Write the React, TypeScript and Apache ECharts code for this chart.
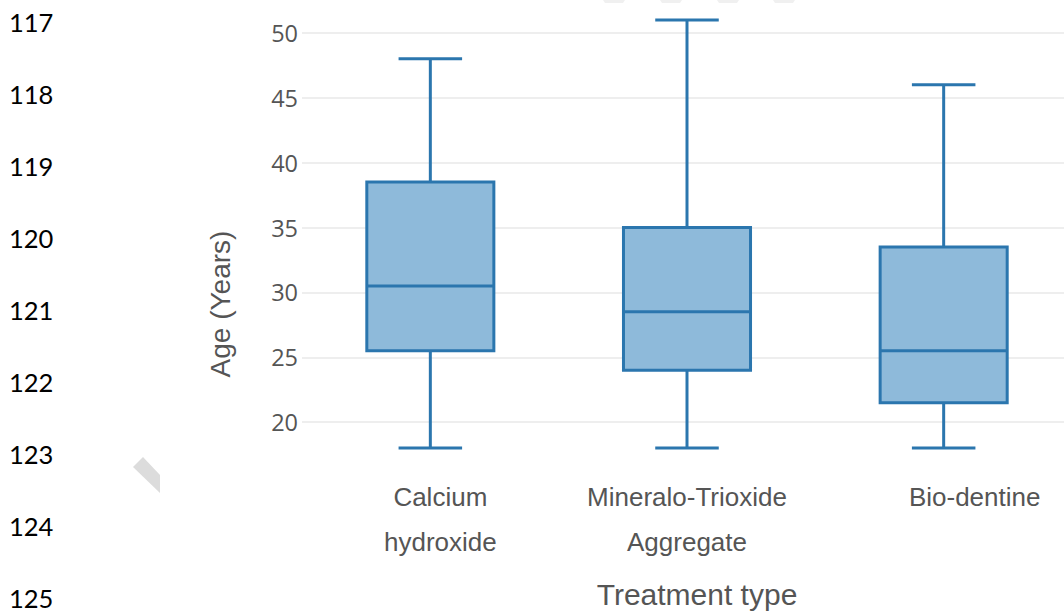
import React, { useEffect, useRef } from "react";
import * as echarts from "echarts";

const categories = ["Calcium\nhydroxide", "Mineralo-Trioxide\nAggregate", "Bio-dentine"];
const minValues = [18, 18, 18];
const q1Values = [25.5, 24, 21.5];
const medianValues = [30.5, 28.5, 25.5];
const q3Values = [38.5, 35, 33.5];
const maxValues = [48, 51, 46];
const lineNumbers = ["117", "118", "119", "120", "121", "122", "123", "124", "125"];

const LINE = "#2b76ae";
const FILL = "#8ebada";
const OY = 40; // container is shifted up by this amount
const labelPads = [20, 0, 62];

export default function App() {
  const ref = useRef<HTMLDivElement>(null);
  useEffect(() => {
    if (!ref.current) return;
    const chart = echarts.init(ref.current, null, { renderer: "svg" });
    const data = categories.map((_, i) => [i, minValues[i], q1Values[i], medianValues[i], q3Values[i], maxValues[i]]);

    const lineNumberTexts = lineNumbers.map((t, i) => ({
      type: "text",
      x: 9,
      y: 22 + 72 * i,
      style: {
        text: t,
        fontFamily: "Lato",
        fontSize: 25.5,
        fill: "#000",
        textAlign: "left",
        textVerticalAlign: "middle",
      },
    }));

    const topMarks = [603, 660, 717, 773].map((x) => ({
      type: "polygon",
      shape: { points: [[x, 0], [x + 22, 0], [x + 20, 3], [x + 2, 3]] },
      style: { fill: "#f0f0f0" },
    }));

    const labelFont = { fontFamily: "Liberation Sans", fontSize: 26, lineHeight: 45, color: "#555" };
    const rich: any = {};
    labelPads.forEach((p, i) => {
      rich["s" + i] = { ...labelFont, padding: [0, 0, 0, p] };
    });

    chart.setOption({
      animation: false,
      backgroundColor: "#ffffff",
      grid: { left: 302, right: 0, top: 8, bottom: 126 },
      xAxis: {
        type: "category",
        data: categories,
        axisLine: { show: false },
        axisTick: { show: false },
        splitLine: { show: false },
        axisLabel: {
          interval: 0,
          margin: -13,
          ...labelFont,
          formatter: (v: string, i: number) =>
            v.split("\n").map((l) => `{s${i}|${l}}`).join("\n"),
          rich,
        },
        name: "Treatment type",
        nameLocation: "middle",
        nameGap: 92,
        nameTextStyle: {
          fontFamily: "Liberation Sans",
          fontSize: 30,
          color: "#555",
          padding: [0, 0, 0, 20],
        },
      },
      yAxis: {
        type: "value",
        min: 15,
        max: 55,
        interval: 5,
        axisLine: { show: false },
        axisTick: { show: false },
        axisLabel: {
          margin: 4,
          fontFamily: "Open Sans",
          fontSize: 23.5,
          color: "#555",
          formatter: (v: number) => (v === 15 || v === 55 ? "" : String(v)),
        },
        splitLine: {
          show: true,
          showMinLine: false,
          showMaxLine: false,
          lineStyle: { color: "#eeeeee", width: 2 },
        },
      },
      graphic: [
        {
          type: "group",
          x: 0,
          y: OY,
          silent: true,
          children: [
            ...lineNumberTexts,
            {
              type: "text",
              x: 220,
              y: 304,
              rotation: Math.PI / 2,
              style: {
                text: "Age (Years)",
                fontFamily: "Liberation Sans",
                fontSize: 28,
                fill: "#555",
                textAlign: "center",
                textVerticalAlign: "middle",
              },
            },
            {
              type: "polygon",
              shape: { points: [[133, 467], [143, 457], [160, 475], [160, 493]] },
              style: { fill: "#dcdcdc" },
            },
            ...topMarks,
          ],
        },
      ],
      series: [
        {
          type: "custom",
          data,
          encode: { x: 0, y: [1, 2, 3, 4, 5] },
          renderItem: (params: any, api: any) => {
            const idx = api.value(0);
            const pMin = api.coord([idx, api.value(1)]);
            const pQ1 = api.coord([idx, api.value(2)]);
            const pMed = api.coord([idx, api.value(3)]);
            const pQ3 = api.coord([idx, api.value(4)]);
            const pMax = api.coord([idx, api.value(5)]);
            const band = api.size([1, 0])[0];
            const boxW = band * 0.495;
            const capW = boxW * 0.5;
            const x = pMed[0];
            const lineStyle = { stroke: LINE, lineWidth: 3, fill: null };
            return {
              type: "group",
              children: [
                { type: "line", shape: { x1: x, y1: pMax[1], x2: x, y2: pQ3[1] }, style: lineStyle },
                { type: "line", shape: { x1: x, y1: pQ1[1], x2: x, y2: pMin[1] }, style: lineStyle },
                { type: "line", shape: { x1: x - capW / 2, y1: pMax[1], x2: x + capW / 2, y2: pMax[1] }, style: lineStyle },
                { type: "line", shape: { x1: x - capW / 2, y1: pMin[1], x2: x + capW / 2, y2: pMin[1] }, style: lineStyle },
                {
                  type: "rect",
                  shape: { x: x - boxW / 2, y: pQ3[1], width: boxW, height: pQ1[1] - pQ3[1] },
                  style: { fill: FILL, stroke: LINE, lineWidth: 3 },
                },
                { type: "line", shape: { x1: x - boxW / 2, y1: pMed[1], x2: x + boxW / 2, y2: pMed[1] }, style: lineStyle },
              ],
            };
          },
        },
      ],
    });
    return () => chart.dispose();
  }, []);
  return <div ref={ref} style={{ position: "fixed", left: 0, top: -OY, width: 1072, height: 614 + OY }} />;
}
